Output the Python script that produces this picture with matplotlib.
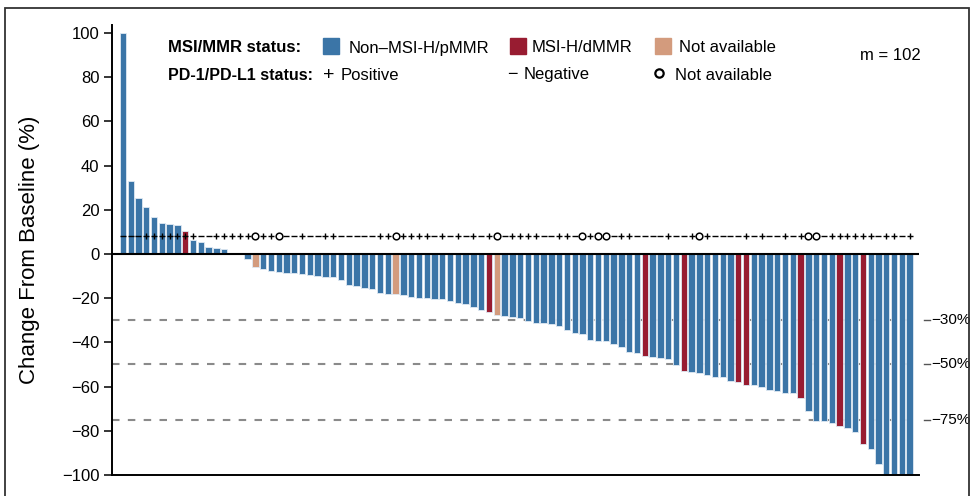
import numpy as np
import matplotlib.pyplot as plt
import matplotlib.transforms as mtransforms
from matplotlib.patches import Rectangle
from matplotlib.lines import Line2D

plt.rcParams['font.family'] = ['Liberation Sans', 'DejaVu Sans']

# best percentage change from baseline, one bar per patient (m = 102)
change = [100, 33, 25.5, 21.4, 16.6, 14.2, 13.6, 13.0, 10.3, 6.3,
          5.4, 3.0, 2.6, 2.4, 0, 0, -2.4, -5.7, -6.8, -7.8,
          -8.3, -8.7, -8.7, -8.9, -9.5, -10.0, -10.3, -10.4, -11.9, -13.9,
          -14.5, -15.2, -15.7, -17.6, -18.0, -18.2, -18.7, -19.5, -19.8, -20.1,
          -20.2, -20.4, -21.2, -22.0, -22.8, -24.1, -25.3, -26.1, -27.6, -28.1,
          -28.7, -29.0, -30.3, -31.4, -31.4, -31.5, -32.6, -34.4, -35.6, -36.4,
          -38.9, -39.4, -39.4, -40.9, -42.2, -44.3, -44.6, -46.2, -46.8, -47.1,
          -47.3, -50.2, -52.8, -53.5, -54.0, -54.9, -55.5, -55.5, -57.3, -57.8,
          -59.3, -59.3, -60.2, -61.5, -61.8, -62.7, -62.7, -65.3, -70.9, -75.4,
          -75.4, -76.6, -77.8, -78.9, -80.5, -86.0, -88.4, -95.2, -100, -100,
          -100, -100]

# MSI/MMR status: patient indices that are MSI-H/dMMR or not available
msi_high = [8, 47, 67, 72, 79, 80, 87, 92, 95]
msi_na = [17, 35, 48]

# PD-1/PD-L1 status per patient: + positive, - negative, o not available
pd1 = ("---" "+++++++" "--" "+++++" "o" "++" "o" "--" "+" "--" "++" "-----"
       "++" "o" "++++" "-+-+-+-+" "o" "-" "++++" "--" "++" "-" "o" "+" "oo"
       "-" "++" "----" "+" "--" "+" "o" "+" "----" "+" "-" "+" "--" "+" "-"
       "+" "oo" "-" "++++++" "-" "++" "-" "+")

cutoffs = [-30, -50, -75]
cutoff_labels = ['\u221230%', '\u221250%', '\u221275%']
yticks = list(range(-100, 101, 20))

blue = '#3b75a7'
red = '#981c31'
tan = '#d39b7d'

W, H = 975, 496
fig = plt.figure(figsize=(W / 100, H / 100), dpi=100)


def fx(px):
    return px / W


def fy(py):
    return 1 - py / H


ax = fig.add_axes([fx(112), fy(475), (919 - 112) / W, (475 - 25) / H])

x = np.arange(len(change))
colors = [blue] * len(change)
for i in msi_high:
    colors[i] = red
for i in msi_na:
    colors[i] = tan
ax.bar(x, change, width=0.82, color=colors, edgecolor='#dfe9f3',
       linewidth=0.6, zorder=2)

ax.set_xlim(-1.4, 102.2)
ax.set_ylim(-100, 103.6)
ax.set_xticks([])
ax.set_yticks(yticks)
ax.tick_params(axis='y', length=6, width=1.1, labelsize=12, pad=3)
for s in ['top', 'right']:
    ax.spines[s].set_visible(False)
for s in ['left', 'bottom']:
    ax.spines[s].set_linewidth(1.4)
ax.axhline(0, color='black', lw=1.5, zorder=3)

ax.set_ylabel('Change From Baseline (%)', fontsize=16)
ax.yaxis.set_label_coords(-0.089, 0.5)

# response cut-offs
trans = mtransforms.blended_transform_factory(ax.transAxes, ax.transData)
for v, lab in zip(cutoffs, cutoff_labels):
    ax.axhline(v, color='#8a8a8a', lw=1.5, dashes=(3.6, 4.0), zorder=1)
    ax.plot([1.0062, 1.0137], [v, v], transform=trans, clip_on=False,
            color='#555555', lw=1)
    ax.text(1.0155, v, lab, transform=trans, va='center', ha='left',
            fontsize=11)

# PD-1/PD-L1 status row
row_y = 8
plus = [i for i, c in enumerate(pd1) if c == '+']
minus = [i for i, c in enumerate(pd1) if c == '-']
circ = [i for i, c in enumerate(pd1) if c == 'o']
ax.plot(plus, [row_y] * len(plus), ls='none', marker='+', ms=4.8, mew=1.0,
        color='black', zorder=4)
ax.plot(minus, [row_y] * len(minus), ls='none', marker='_', ms=4.0, mew=1.0,
        color='black', zorder=4)
ax.plot(circ, [row_y] * len(circ), ls='none', marker='o', ms=4.8, mew=1.1,
        mfc='none', mec='black', zorder=4)

# legend block
fs = 12
fig.text(fx(168), fy(52.5), 'MSI/MMR status:', fontsize=fs, weight='bold')
fig.text(fx(168), fy(79.5), 'PD-1/PD-L1 status:', fontsize=11.5,
         weight='bold')
for px, col, lab, tx in [(323, blue, 'Non\u2013MSI-H/pMMR', 349),
                         (510, red, 'MSI-H/dMMR', 532),
                         (655, tan, 'Not available', 679)]:
    fig.add_artist(Rectangle((fx(px), fy(53.5)), 15.5 / W, 15 / H,
                             transform=fig.transFigure, color=col))
    fig.text(fx(tx), fy(52.5), lab, fontsize=fs)
fig.text(fx(323), fy(80), '+', fontsize=14)
fig.text(fx(341), fy(79.5), 'Positive', fontsize=fs)
fig.text(fx(507), fy(79.5), '\u2212', fontsize=13)
fig.text(fx(524), fy(79.5), 'Negative', fontsize=fs)
fig.add_artist(Line2D([fx(659)], [fy(73)], transform=fig.transFigure,
                      marker='o', ms=6, mew=1.6, mfc='none', mec='black'))
fig.text(fx(675), fy(79.5), 'Not available', fontsize=fs)
fig.text(fx(860), fy(60), 'm = 102', fontsize=fs)

# outer frame
fig.add_artist(Rectangle((fx(5), -0.05), (969 - 5) / W, fy(8) + 0.05,
                         transform=fig.transFigure, fill=False,
                         ec='#333333', lw=1.3))

fig.savefig('out.png', dpi=100)
